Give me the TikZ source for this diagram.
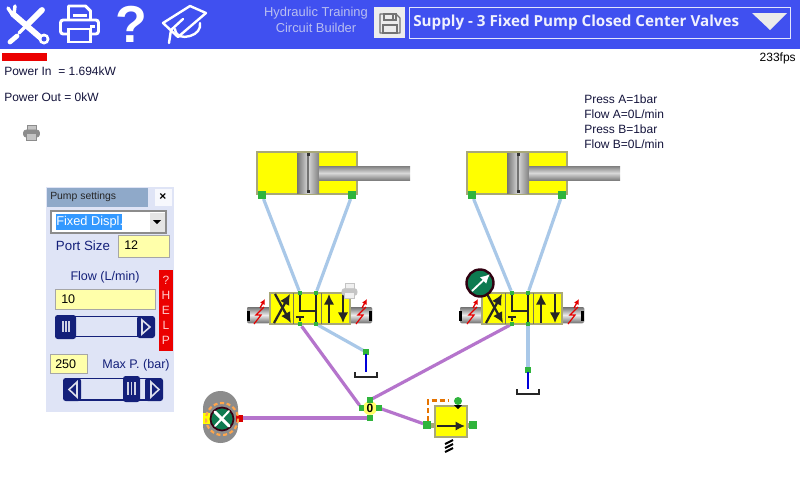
\documentclass[tikz,border=0pt]{standalone}
\usepackage{fontspec}
\setmainfont{Liberation Sans}
\newfontfamily\titlefont{Open Sans}
\usetikzlibrary{backgrounds,arrows.meta}
\definecolor{hdr}{HTML}{4050F0}
\definecolor{pur}{HTML}{B574CC}
\definecolor{pipeblue}{HTML}{A9C8E8}
\definecolor{portg}{HTML}{2FB43C}
\definecolor{yel}{HTML}{FFFF00}
\definecolor{rim}{HTML}{A8A878}
\definecolor{panelbg}{HTML}{DFE4F6}
\definecolor{titlebar}{HTML}{8FA9C9}
\definecolor{inputy}{HTML}{FFFFAA}
\definecolor{navy}{HTML}{14207A}
\definecolor{inktext}{HTML}{14143C}
\definecolor{gaugeg}{HTML}{0E7A50}
\definecolor{selblue}{HTML}{3399FF}
\definecolor{prna}{HTML}{8C8C8C}
\definecolor{prnb}{HTML}{C4C4C4}
\tikzset{
 x=0.75pt,y=-0.75pt,
 port/.style={fill=portg,draw=none,minimum size=6pt,inner sep=0pt,outer sep=0pt},
 tiny port/.style={fill=portg,draw=none,minimum size=3.4pt,inner sep=0pt,outer sep=0pt},
 pipeb/.style={draw=pipeblue,line width=2.4pt},
 pipep/.style={draw=pur,line width=2.4pt},
 lbl/.style={inner sep=0pt,anchor=west,font=\fontsize{9}{11}\selectfont,text=inktext},
 panellbl/.style={inner sep=0pt,font=\fontsize{9.4}{11}\selectfont,text=navy},
 inbox/.style={fill=inputy,draw=black!35,line width=0.4pt},
 steel/.style={top color=black!50,bottom color=black!50,middle color=black!15},
 sym/.style={draw=black!85,line width=1.7pt},
 symarrow/.style={sym,-{Latex[length=8pt,width=8pt]}},
 hw/.style={draw=white,line cap=round,line join=round},
 barshade/.style={fill=navy,draw=none,rounded corners=2pt},
}
\newcommand{\PrinterIcon}[4]{% x,y,scale,colour
 \begin{scope}[shift={(#1,#2)},scale=#3]
  \draw[draw=#4,line width=#3*2.2pt,line join=round,fill=none] (-11,-4) -- (-11,-18) -- (6,-18) -- (11,-13) -- (11,-4);
  \draw[draw=#4,line width=#3*2.2pt,rounded corners=2pt] (-11,10) -- (-19,10) -- (-19,-4) -- (19,-4) -- (19,10) -- (11,10);
  \draw[draw=#4,line width=#3*2.2pt] (-11,5) rectangle (11,18);
  \fill[#4] (-7,-10) rectangle (7,-7.5);
  \fill[#4] (10,1) rectangle (15,4);
 \end{scope}}
\newcommand{\PrinterSolid}[5]{% x,y,scale,dark,light
 \begin{scope}[shift={(#1,#2)},scale=#3]
  \filldraw[fill=#5,draw=#4,line width=0.5pt] (-11,-4) -- (-11,-18) -- (11,-18) -- (11,-4) -- cycle;
  \filldraw[fill=#4,draw=#4,rounded corners=2pt,line width=0.5pt] (-19,-6) rectangle (19,11);
  \filldraw[fill=#5,draw=#4,line width=0.5pt] (-12,3) rectangle (12,18);
 \end{scope}}
\newcommand{\Cyl}[2]{% x offset, name
 \begin{scope}[shift={(#1,0)}]
  \filldraw[fill=yel,draw=rim,line width=1.2pt] (257,152) rectangle (357,194);
  \fill[left color=black!55,right color=black!50,middle color=black!15] (297,153) rectangle (319,193);
  \fill[steel] (319,166) rectangle (410,180);
  \draw[black!55,line width=2pt] (308,153) -- (308,193);
  \fill[black!80] (306.5,153) rectangle (309.5,156);
  \fill[black!80] (306.5,190) rectangle (309.5,193);
  \node[port] (#2a) at (262,195) {};
  \node[port] (#2b) at (352,195) {};
 \end{scope}}
\newcommand{\Solenoid}[1]{% x of left edge
 \begin{scope}[shift={(#1,0)}]
  \fill[top color=black!55,bottom color=black!55,middle color=black!8,rounded corners=1pt] (0,307) rectangle (23,323);
  \draw[red!90!black,line width=0.9pt] (17,307) -- (9,315) -- (14,315) -- (7,324);
  \draw[red!90!black,line width=1pt,-{Latex[length=4pt,width=4pt]}] (13,308) -- (18,299);
 \end{scope}}
\newcommand{\Valve}[2]{% x of body, name
 \begin{scope}[shift={(#1,293)}]
  \filldraw[fill=yel,draw=rim,line width=1.2pt] (0,0) rectangle (80,31);
  \draw[draw=rim!70!black,line width=0.6pt] (23,0) -- (23,31) (51,0) -- (51,31);
  \draw[symarrow] (4,30) -- (20,1);
  \draw[symarrow] (5,1) -- (21,30);
  \draw[sym] (30,0) -- (30,18) -- (46,18) -- (46,0);
  \draw[sym] (46,18) -- (46,31);
  \draw[sym] (30,24) -- (30,28) (26,24) -- (34,24);
  \draw[symarrow] (59,30) -- (59,1);
  \draw[symarrow] (73,1) -- (73,30);
  \node[tiny port] (#2ta) at (30,0) {};
  \node[tiny port] (#2tb) at (46,0) {};
  \node[tiny port] (#2ba) at (30,31) {};
  \node[tiny port] (#2bb) at (46,31) {};
 \end{scope}}
\newcommand{\TankSym}[4]{% x, port y, tray y, name
 \node[port,minimum size=4pt] (#4) at (#1,#2) {};
 \draw[draw=blue!85!black,line width=2.2pt] (#1,#2+2) -- (#1,#3-5);
 \draw[black!85,line width=1.6pt] (#1-11,#3-5) -- (#1-11,#3) -- (#1+11,#3) -- (#1+11,#3-5);
}
\begin{document}
\begin{tikzpicture}
\useasboundingbox (0,0) rectangle (800,500);
% header
\fill[hdr] (0,0) rectangle (800,49);
% tools icon
\draw[hw,line width=4.4pt] (13,14) -- (42,39);
\draw[hw,line width=2.6pt] (8,8) -- (12,14) (15,6) -- (14,14);
\fill[white] (44,39) circle (5.5);\fill[hdr] (44,39) circle (2.5);
\draw[hw,line width=4.4pt] (42,10) -- (27,25);
\draw[hw,line width=2.4pt] (27,25) -- (19,33);
\draw[hw,line width=3.6pt] (17,36) -- (10,42);
\PrinterIcon{79.5}{24}{1}{white}
\node[inner sep=0pt,text=white,font=\fontsize{39}{39}\selectfont\bfseries] (qm) at (131,24) {?};
% mortarboard
\draw[hw,line width=1.8pt] (163,23) -- (190,6) -- (206,13) -- (178,37) -- cycle;
\draw[hw,line width=1.8pt] (169,43) -- (171,30) -- (183,19);
\draw[hw,line width=1.8pt] (175,29) .. controls (176,37) and (183,38) .. (190,36) .. controls (197,34) and (201,29) .. (200,23);
\node[inner sep=0pt,text=black!12!hdr!35!white,font=\fontsize{9.7}{12}\selectfont] (t1) at (316,13) {Hydraulic Training};
\node[inner sep=0pt,text=black!12!hdr!35!white,font=\fontsize{9.7}{12}\selectfont] (t2) at (316,28) {Circuit Builder};
% save
\fill[black!7] (374,7) rectangle (405,38);
\draw[black!55,line width=0.8pt,line join=round] (380,14) -- (396,14) -- (400,18) -- (400,33) -- (380,33) -- cycle;
\draw[black!55,line width=0.8pt] (384,14) rectangle (396,20) (383,25) rectangle (397,33);
\fill[black!55] (392,15) rectangle (394,19);
% title
\draw[draw=white!85!hdr,line width=0.7pt] (409.5,7.5) rectangle (790.5,38.5);
\node[anchor=west,inner sep=0pt,text=white!92!hdr,font=\titlefont\fontsize{11.4}{14}\selectfont\bfseries] (title) at (413,22.5) {Supply - 3 Fixed Pump Closed Center Valves};
\fill[black!8] (752,13) -- (787,13) -- (770,30) -- cycle;
% status
\fill[red!92!black] (2,53) rectangle (47,61);
\node[lbl] (pin) at (4,71) {Power In\ \ = 1.694kW};
\node[lbl] (pout) at (4,97) {Power Out = 0kW};
\node[lbl,anchor=east,text=black] (fps) at (796,58) {233fps};
\PrinterSolid{31.5}{132.5}{0.42}{prna}{prnb}
\node[lbl] (pa) at (584,99) {Press A=1bar};
\node[lbl] (fa) at (584,114) {Flow A=0L/min};
\node[lbl] (pb) at (584,129) {Press B=1bar};
\node[lbl] (fb) at (584,144) {Flow B=0L/min};
% cylinders
\Cyl{0}{ca}
\Cyl{210}{cb}
% valves
\Solenoid{247}
\Solenoid{349}
\fill[black] (247,311) rectangle (250,321);
\fill[black] (369,311) rectangle (372,321);
\Valve{270}{va}
\Solenoid{460}
\Solenoid{561}
\fill[black] (459,311) rectangle (462,321);
\fill[black] (581,311) rectangle (584,321);
\Valve{482}{vb}
\PrinterSolid{349.5}{291}{0.4}{prnb}{black!6}
% gauge
\filldraw[fill=gaugeg,draw=black!75!purple,line width=1.8pt] (480,283) circle (13.5);
\draw[draw=white,line width=1.4pt,-{Latex[length=7pt,width=7pt]}] (472,291) -- (490,274);
% tanks
\TankSym{366}{352}{377}{ta}
\TankSym{528}{370}{394}{tb}
% junction
\fill[yel!60!white] (370,408) circle (7);
\node[port,minimum size=4pt] (jt) at (370,400) {};
\node[port,minimum size=4pt] (jb) at (370,418) {};
\node[port,minimum size=4pt] (jl) at (361.5,408) {};
\node[port,minimum size=4pt] (jr) at (379,408) {};
\node[inner sep=0pt,font=\fontsize{9}{10}\selectfont\bfseries] (jn) at (370,408.5) {0};
% pump
\fill[black!45,rounded corners=13pt] (203,391) rectangle (238,443);
\fill[yel] (203,413) rectangle (210,424);
\fill[red!85!black] (236,415) rectangle (243,422);
\draw[orange!70!white,line width=1.6pt,dash pattern=on 3pt off 2pt] (222,419) circle (16);
\filldraw[fill=gaugeg,draw=black!70!purple,line width=1.3pt] (222,419) circle (11.5);
\draw[hw,line width=2.3pt] (215,412) -- (229,426);
\draw[hw,line width=1.5pt] (229,411) -- (215,426);
\coordinate (pumpout) at (243,418);
% relief
\draw[orange!90!black,line width=1.7pt,dash pattern=on 4pt off 2pt] (428,421) -- (428,400.5) -- (448,400.5);
\fill[rim] (427,423) rectangle (473,428);
\filldraw[fill=yel,draw=rim,line width=1.2pt] (435,406) rectangle (467,437);
\node[port] (ra) at (427,425) {};
\node[port] (rb) at (473,425) {};
\node[port,minimum size=6pt,circle] (rc) at (458,401) {};
\fill[black] (454,405) -- (462,405) -- (458,409) -- cycle;
\draw[sym,-{Latex[length=7pt,width=7pt]}] (437,426) -- (465,426);
\draw[black,line width=1.5pt] (445,444) -- (453,440) (445,448) -- (453,444) (445,452) -- (453,448);
% pipes
\begin{pgfonlayer}{background}
\fill[white] (0,0) rectangle (800,500);
\draw[pipeb] (caa) -- (vata);
\draw[pipeb] (cab) -- (vatb);
\draw[pipeb] (cba) -- (vbta);
\draw[pipeb] (cbb) -- (vbtb);
\draw[pipeb] (vabb) -- (ta);
\draw[pipeb] (vbbb) -- (tb);
\draw[pipep] (vaba) -- (jl);
\draw[pipep] (vbba) -- (jt);
\draw[pipep] (pumpout) -- (jb);
\draw[pipep] (jr) -- (ra);
\end{pgfonlayer}
% panel
\fill[panelbg] (46,187) rectangle (174,412);
\fill[titlebar] (47,188) rectangle (148,207);
\fill[white!75!panelbg] (155,189) rectangle (172,206);
\node[lbl,text=black!85,font=\fontsize{7.8}{9}\selectfont] (ps) at (50,197) {Pump settings};
\node[inner sep=0pt,font=\fontsize{9}{9}\selectfont\bfseries] (cl) at (163,197) {×};
\filldraw[fill=white,draw=black!45,line width=0.8pt] (51,211) rectangle (166,233);
\fill[selblue] (56,214) rectangle (122,230);
\fill[black!10] (150,213) rectangle (165,232);
\fill[black] (153,220) -- (161,220) -- (157,224) -- cycle;
\node[lbl,text=white,font=\fontsize{9.6}{11}\selectfont] (cb1) at (56,222) {Fixed Displ.};
\node[panellbl,font=\fontsize{10}{11}\selectfont] (lp) at (83,246) {Port Size};
\filldraw[inbox] (118,235) rectangle (169,257);
\node[lbl,text=black,font=\fontsize{9.4}{11}\selectfont] (v1) at (124,245) {12};
\node[panellbl] (lf) at (105,277) {Flow (L/min)};
\filldraw[inbox] (55,289) rectangle (155,309);
\node[lbl,text=black,font=\fontsize{9.4}{11}\selectfont] (v2) at (61,299) {10};
\fill[red!92!black] (159,270) rectangle (173,351);
\node[inner sep=0pt,align=center,text=white!80!red,font=\fontsize{9}{11.2}\selectfont] (hlp) at (166,310.5) {?\\H\\E\\L\\P};
% flow slider
\draw[navy,line width=1.4pt] (60,316.5) -- (150,316.5) (60,336.5) -- (150,336.5);
\fill[barshade] (55,315) rectangle (76,339);
\fill[barshade] (137,316) rectangle (155,338);
\draw[white!80!navy,line width=1pt] (63,321) -- (63,332) (66,321) -- (66,332) (69,321) -- (69,332);
\draw[white!85!navy,line width=1.2pt] (142,320) -- (150,327) -- (142,334) -- cycle;
\filldraw[inbox] (50,354) rectangle (87,373);
\node[lbl,text=black,font=\fontsize{9.4}{11}\selectfont] (v3) at (55,364) {250};
\node[panellbl] (lm) at (136,365) {Max P. (bar)};
% max slider
\draw[navy,line width=1.4pt] (66,378.5) -- (160,378.5) (66,400) -- (160,400);
\fill[barshade] (63,378) rectangle (81,401);
\fill[barshade] (145,378) rectangle (163,401);
\fill[barshade] (123,376) rectangle (140,402);
\draw[white!80!navy,line width=1pt] (128,382) -- (128,395) (131.5,382) -- (131.5,395) (135,382) -- (135,395);
\draw[white!85!navy,line width=1.2pt] (77,382) -- (69,389.5) -- (77,397) -- cycle;
\draw[white!85!navy,line width=1.2pt] (151,382) -- (159,389.5) -- (151,397) -- cycle;
\end{tikzpicture}
\end{document}
